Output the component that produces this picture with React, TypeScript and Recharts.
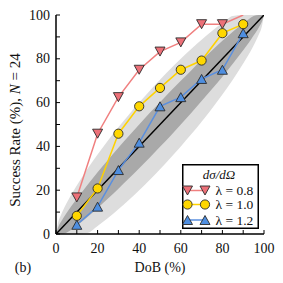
import {
  ComposedChart,
  Area,
  Line,
  XAxis,
  YAxis,
  Legend,
  Label,
} from 'recharts'

// success rate (%) vs DoB (%) for three lambda values
const dobValues = [10, 20, 30, 40, 50, 60, 70, 80, 90]
const rateLambda08 = [16.7, 45.8, 62.5, 75, 83.3, 87.5, 95.8, 95.8, 100]
const rateLambda10 = [8.3, 20.8, 45.8, 58.3, 66.7, 75, 79.2, 91.7, 95.8]
const rateLambda12 = [4.2, 12.5, 29.2, 41.7, 58.3, 62.5, 70.8, 75, 91.7]

// grey bands around the diagonal (edges)
const bandX = [0, 1, 2.5, 5, 7.5, 10, 15, 20, 25, 30, 35, 40, 45, 50, 55, 60, 65, 70, 75, 80, 85, 90, 92.5, 95, 97.5, 99, 100]
const outerLow = [0, 0, 0, 0, 0, 0, 0.4, 3.7, 7.3, 11.3, 15.5, 20, 24.7, 29.6, 34.7, 40, 45.5, 51.3, 57.3, 63.7, 70.4, 77.8, 81.7, 86.1, 91.1, 94.9, 100]
const outerHigh = [0, 5.1, 8.9, 13.9, 18.3, 22.2, 29.6, 36.3, 42.7, 48.7, 54.5, 60, 65.3, 70.4, 75.3, 80, 84.5, 88.7, 92.7, 96.3, 99.6, 100, 100, 100, 100, 100, 100]
const innerLow = [0, 0, 0, 0.6, 2.1, 3.9, 7.7, 11.8, 16.2, 20.7, 25.3, 30, 34.8, 39.8, 44.8, 50, 55.3, 60.7, 66.2, 71.8, 77.7, 83.9, 87.1, 90.6, 94.3, 97, 100]
const innerHigh = [0, 3, 5.7, 9.5, 12.9, 16.1, 22.3, 28.2, 33.8, 39.4, 44.7, 50, 55.2, 60.2, 65.2, 70, 74.7, 79.4, 83.8, 88.2, 92.3, 96.1, 97.9, 99.5, 100, 100, 100]

const diagX = [0, 100]
const diagY = [0, 100]

const ticks = [0, 10, 20, 30, 40, 50, 60, 70, 80, 90, 100]

const RED = '#f08080'
const RED_FILL = '#ec7078'
const YELLOW = '#ffd200'
const YELLOW_FILL = '#ffd700'
const BLUE = '#5a8fdf'
const BLUE_FILL = '#4e8ee0'
const EDGE = '#2a2a2a'
const FONT = '"Liberation Serif", "DejaVu Serif", serif'

const rows = bandX.map((x, i) => {
  const k = dobValues.indexOf(x)
  const d = diagX.indexOf(x)
  return {
    x,
    outer: [outerLow[i], outerHigh[i]],
    inner: [innerLow[i], innerHigh[i]],
    diag: d >= 0 ? diagY[d] : null,
    r08: k >= 0 ? rateLambda08[k] : null,
    r10: k >= 0 ? rateLambda10[k] : null,
    r12: k >= 0 ? rateLambda12[k] : null,
  }
})

const TICK_LEN = 4

function triDown(cx: number, cy: number, fill: string, key?: string) {
  const pts = `${cx - 5},${cy - 4.5} ${cx + 5},${cy - 4.5} ${cx},${cy + 4.5}`
  return <polygon key={key} points={pts} fill={fill} stroke={EDGE} strokeWidth={0.9} />
}

function triUp(cx: number, cy: number, fill: string, key?: string) {
  const pts = `${cx - 5},${cy + 4.5} ${cx + 5},${cy + 4.5} ${cx},${cy - 4.5}`
  return <polygon key={key} points={pts} fill={fill} stroke={EDGE} strokeWidth={0.9} />
}

function circ(cx: number, cy: number, fill: string, key?: string) {
  return <circle key={key} cx={cx} cy={cy} r={4.6} fill={fill} stroke={EDGE} strokeWidth={0.9} />
}

const makeDot = (draw: typeof circ, fill: string) => (props: any) => {
  const { cx, cy, index, value } = props
  // markers sitting on the top frame are hidden, as in the original
  if (value == null || value >= 100 || cy == null || Number.isNaN(cy)) return <g key={`e${index}`} />
  return draw(cx, cy, fill, `d${index}`)
}

const BottomTick = (props: any) => {
  const { x, y, payload } = props
  const v = payload.value
  return (
    <g>
      <line x1={x} y1={y} x2={x} y2={y - TICK_LEN} stroke="#000" strokeWidth={1} />
      {v % 20 === 0 && (
        <text x={x} y={y + 14} textAnchor="middle" dominantBaseline="central" fontFamily={FONT} fontSize={14} fill="#111">
          {v}
        </text>
      )}
    </g>
  )
}

const TopTick = (props: any) => {
  const { x, y } = props
  return <line x1={x} y1={y} x2={x} y2={y + TICK_LEN} stroke="#000" strokeWidth={1} />
}

const LeftTick = (props: any) => {
  const { x, y, payload } = props
  const v = payload.value
  return (
    <g>
      <line x1={x} y1={y} x2={x + TICK_LEN} y2={y} stroke="#000" strokeWidth={1} />
      {v % 20 === 0 && (
        <text x={x - 6} y={y} textAnchor="end" dominantBaseline="central" fontFamily={FONT} fontSize={14} fill="#111">
          {v}
        </text>
      )}
    </g>
  )
}

const RightTick = (props: any) => {
  const { x, y } = props
  return <line x1={x} y1={y} x2={x - TICK_LEN} y2={y} stroke="#000" strokeWidth={1} />
}

const legendRows = [
  { label: 'λ = 0.8', color: RED, fill: RED_FILL, draw: triDown },
  { label: 'λ = 1.0', color: YELLOW, fill: YELLOW_FILL, draw: circ },
  { label: 'λ = 1.2', color: BLUE, fill: BLUE_FILL, draw: triUp },
]

function LegendBox() {
  const rowY = [26.5, 40.5, 56]
  return (
    <svg width={78} height={66} style={{ display: 'block' }}>
      <rect x={0.75} y={0.75} width={75.5} height={63.5} fill="#fff" stroke="#000" strokeWidth={1.5} />
      <text x={37} y={10.5} textAnchor="middle" dominantBaseline="central" fontFamily={FONT} fontSize={13} fontStyle="italic" fill="#111">
        dσ/dΩ
      </text>
      {legendRows.map((r, i) => (
        <g key={r.label}>
          <line x1={5.5} y1={rowY[i]} x2={23} y2={rowY[i]} stroke={r.color} strokeWidth={1.5} />
          {r.draw(5.5, rowY[i], r.fill)}
          {r.draw(23, rowY[i], r.fill)}
          <text x={33.5} y={rowY[i]} dominantBaseline="central" fontFamily={FONT} fontSize={13.5} fill="#111">
            {r.label}
          </text>
        </g>
      ))}
    </svg>
  )
}

export default function App() {
  return (
    <div style={{ width: 283, height: 283, position: 'relative', background: '#fff' }}>
      <style>{'body{margin:0}'}</style>
      <ComposedChart width={283} height={283} data={rows} margin={{ top: 15, right: 19, left: 0, bottom: 0 }}>
        <XAxis
          dataKey="x"
          type="number"
          domain={[0, 100]}
          ticks={ticks}
          interval={0}
          allowDataOverflow
          height={49}
          tickSize={0}
          tickMargin={0}
          tickLine={false}
          axisLine={{ stroke: '#000', strokeWidth: 1.5 }}
          tick={<BottomTick />}
        >
          <Label
            content={() => (
              <g>
                <text x={160} y={267} textAnchor="middle" dominantBaseline="central" fontFamily={FONT} fontSize={14} fill="#111">
                  DoB (%)
                </text>
                <text x={23} y={267} textAnchor="middle" dominantBaseline="central" fontFamily={FONT} fontSize={14} fill="#111">
                  (b)
                </text>
              </g>
            )}
          />
        </XAxis>
        <XAxis
          xAxisId="top"
          orientation="top"
          dataKey="x"
          type="number"
          domain={[0, 100]}
          ticks={ticks}
          interval={0}
          allowDataOverflow
          height={0}
          tickSize={0}
          tickMargin={0}
          tickLine={false}
          axisLine={{ stroke: '#000', strokeWidth: 1.5 }}
          tick={<TopTick />}
        />
        <YAxis
          type="number"
          domain={[0, 100]}
          ticks={ticks}
          interval={0}
          allowDataOverflow
          width={56}
          tickSize={0}
          tickMargin={0}
          tickLine={false}
          axisLine={{ stroke: '#000', strokeWidth: 1.5 }}
          tick={<LeftTick />}
        >
          <Label
            content={() => (
              <text
                x={15}
                y={130}
                transform="rotate(-90 15 130)"
                textAnchor="middle"
                dominantBaseline="central"
                fontFamily={FONT}
                fontSize={15}
                fill="#111"
              >
                Success Rate (%), <tspan fontStyle="italic">N</tspan> = 24
              </text>
            )}
          />
        </YAxis>
        <YAxis
          yAxisId="right"
          orientation="right"
          type="number"
          domain={[0, 100]}
          ticks={ticks}
          interval={0}
          allowDataOverflow
          width={0}
          tickSize={0}
          tickMargin={0}
          tickLine={false}
          axisLine={{ stroke: '#000', strokeWidth: 1.5 }}
          tick={<RightTick />}
        />
        <Area
          dataKey="outer"
          type="monotone"
          stroke="none"
          fill="#dddddd"
          fillOpacity={1}
          isAnimationActive={false}
          activeDot={false}
          connectNulls
        />
        <Area
          dataKey="inner"
          type="monotone"
          stroke="none"
          fill="#a9a9a9"
          fillOpacity={1}
          isAnimationActive={false}
          activeDot={false}
          connectNulls
        />
        <Line dataKey="diag" stroke="#000" strokeWidth={1.5} dot={false} connectNulls isAnimationActive={false} />
        <Line
          dataKey="r08"
          stroke={RED}
          strokeWidth={1.5}
          dot={makeDot(triDown, RED_FILL)}
          connectNulls
          isAnimationActive={false}
        />
        <Line
          dataKey="r10"
          stroke={YELLOW}
          strokeWidth={1.5}
          dot={makeDot(circ, YELLOW_FILL)}
          connectNulls
          isAnimationActive={false}
        />
        <Line
          dataKey="r12"
          stroke={BLUE}
          strokeWidth={1.5}
          dot={makeDot(triUp, BLUE_FILL)}
          connectNulls
          isAnimationActive={false}
        />
        <Legend
          layout="horizontal"
          verticalAlign="middle"
          align="center"
          content={() => <LegendBox />}
          wrapperStyle={{ left: 182, top: 164, width: 78, height: 66 }}
        />
      </ComposedChart>
    </div>
  )
}
